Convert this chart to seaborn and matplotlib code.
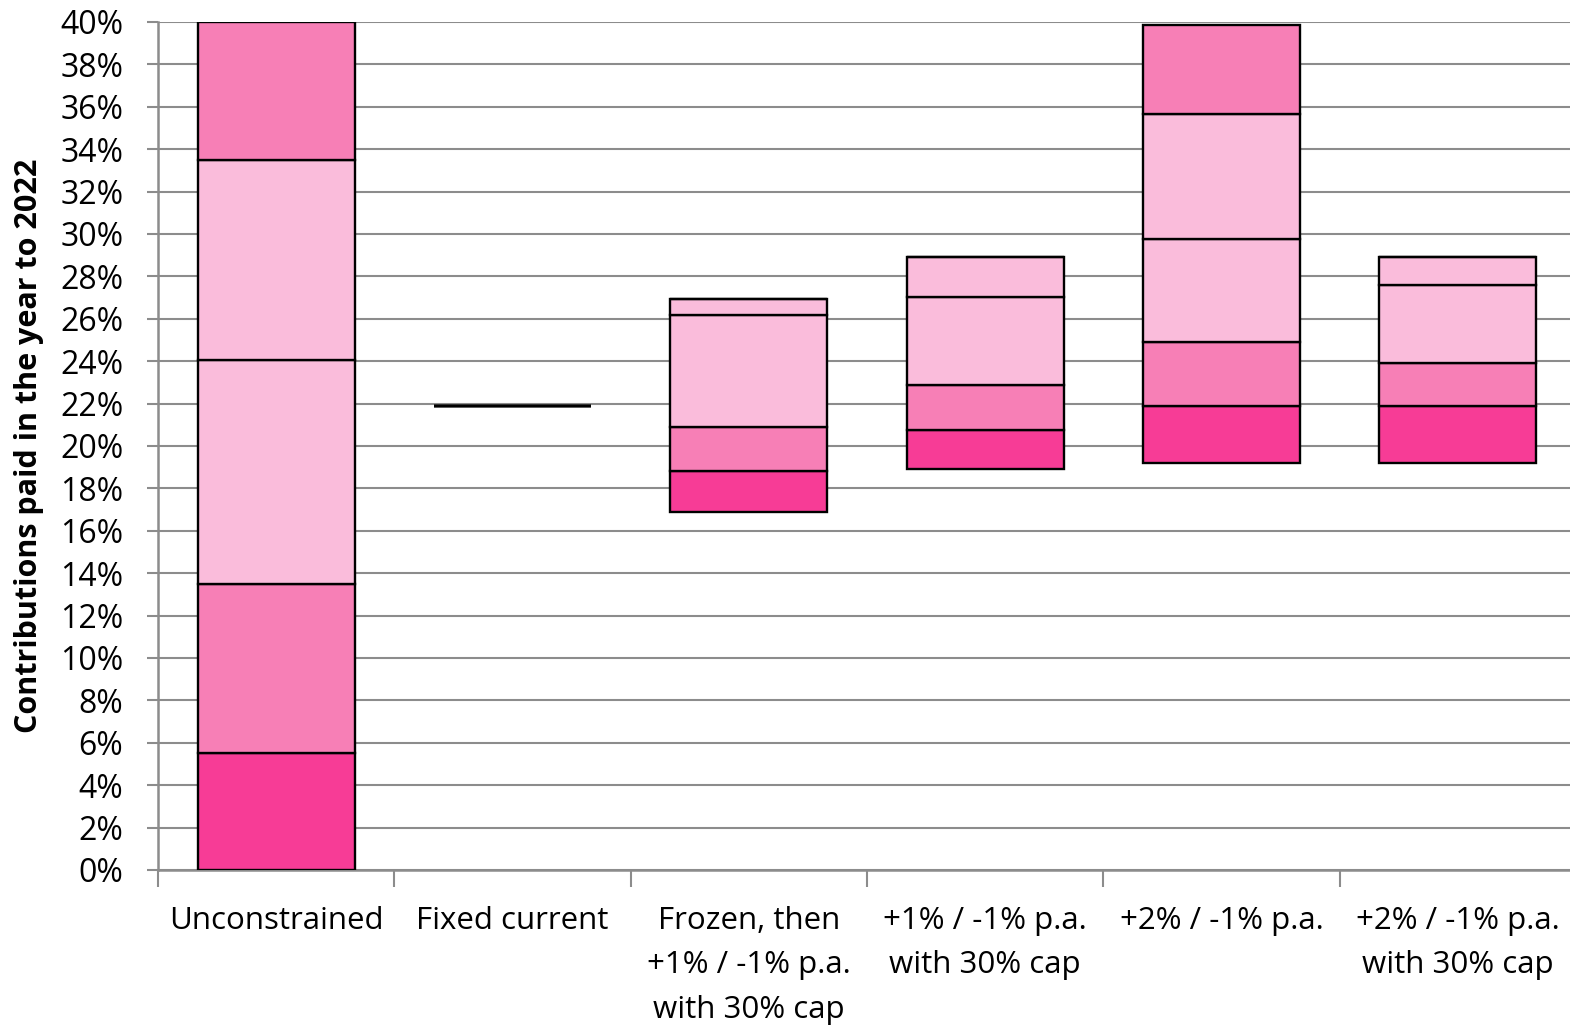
import numpy as np
import pandas as pd
import matplotlib
matplotlib.use("Agg")
import matplotlib.pyplot as plt
from matplotlib.ticker import FixedLocator, FuncFormatter
import seaborn as sns

# Scenario names shown under the bars
categories = [
    "Unconstrained",
    "Fixed current",
    "Frozen, then\n+1% / -1% p.a.\nwith 30% cap",
    "+1% / -1% p.a.\nwith 30% cap",
    "+2% / -1% p.a.",
    "+2% / -1% p.a.\nwith 30% cap",
]

# Band boundaries (contribution rate, %) for each scenario, lowest to highest
bound_0 = [0.0, 21.9, 16.9, 18.9, 19.2, 19.2]
bound_1 = [5.5, 21.9, 18.8, 20.75, 21.9, 21.9]
bound_2 = [13.5, 21.9, 20.9, 22.9, 24.9, 23.9]
bound_3 = [24.05, 21.9, 26.2, 27.05, 29.75, 27.6]
bound_4 = [33.5, 21.9, 26.95, 28.9, 35.65, 28.9]
bound_5 = [40.0, 21.9, 26.95, 28.9, 39.85, 28.9]

band_colors = ["#F73C96", "#F77FB6", "#FABCDB", "#FABCDB", "#F77FB6"]

bounds = [bound_0, bound_1, bound_2, bound_3, bound_4, bound_5]

sns.set_theme(style="white")
plt.rcParams["font.family"] = ["Open Sans", "DejaVu Sans"]
plt.rcParams["text.color"] = "black"
plt.rcParams["axes.labelcolor"] = "black"
plt.rcParams["xtick.color"] = "black"
plt.rcParams["ytick.color"] = "black"

fig = plt.figure(figsize=(15.7, 10.27), dpi=100)
ax = fig.add_axes([158 / 1570, 157 / 1027, 1418 / 1570, 848 / 1027])

grid_color = "#8C8C8C"
for k in range(5):
    low = np.array(bounds[k])
    high = np.array(bounds[k + 1])
    df = pd.DataFrame({"scenario": categories, "height": high - low})
    sns.barplot(
        data=df, x="scenario", y="height", order=categories,
        bottom=low, color=band_colors[k], saturation=1,
        edgecolor="black", linewidth=1.7, width=0.665, ax=ax, zorder=3,
    )

ax.set_ylim(0, 40)
ax.set_xlim(-0.5, 5.5)
ax.yaxis.set_major_locator(FixedLocator(np.arange(0, 41, 2)))
ax.yaxis.set_major_formatter(FuncFormatter(lambda v, _: f"{int(round(v))}%"))
ax.grid(axis="y", color=grid_color, linewidth=1.5, zorder=0)
ax.grid(axis="x", visible=False)
ax.set_axisbelow(True)

# category boundaries get tick marks, labels sit between them
ax.set_xticks(np.arange(-0.5, 6.0, 1.0))
ax.set_xticklabels([])
ax.set_xticks(np.arange(6), minor=True)
ax.set_xticklabels(categories, minor=True, fontsize=22.5, linespacing=1.62,
                   va="top")
ax.tick_params(axis="x", which="major", length=12, width=1.5,
               color=grid_color, direction="out", bottom=True)
ax.tick_params(axis="x", which="minor", length=0, pad=26)
ax.tick_params(axis="y", which="major", length=8, width=1.5,
               color=grid_color, direction="out", left=True, labelsize=23,
               pad=17)

for side in ["top", "right"]:
    ax.spines[side].set_visible(False)
for side in ["left", "bottom"]:
    ax.spines[side].set_color(grid_color)
    ax.spines[side].set_linewidth(1.8)

ax.set_xlabel("")
ylab = ax.set_ylabel("Contributions paid in the year to 2022", fontsize=22,
                     fontweight="bold")
ylab.set_verticalalignment("center")
ax.yaxis.set_label_coords((29.5 - 158) / 1418, 0.5)

fig.savefig("out.png", dpi=100)
